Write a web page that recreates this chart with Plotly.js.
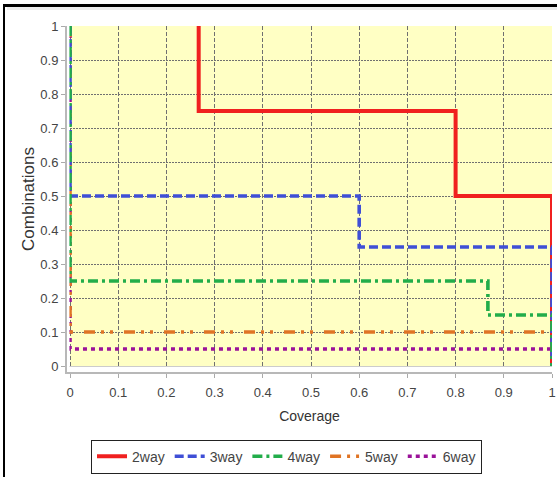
<!DOCTYPE html>
<html>
<head>
<meta charset="utf-8">
<script src="https://cdn.plot.ly/plotly-3.0.1.min.js"></script>
<style>
  html, body { margin: 0; padding: 0; background: #ffffff; }
  #chart { position: absolute; left: 0; top: 0; width: 557px; height: 477px; }
  .frame { position: absolute; background: #000; }
</style>
</head>
<body>
<div id="chart"></div>
<div class="frame" style="left:3px; top:4px; width:554px; height:3px;"></div>
<div class="frame" style="left:7px; top:7px; width:550px; height:3px; background:#eeeeee;"></div>
<div class="frame" style="left:3px; top:4px; width:2px; height:473px;"></div>
<script>
// ---- data ----
var seriesNames = ["2way", "3way", "4way", "5way", "6way"];
var seriesColors = ["#f0201f", "#3f4fd6", "#22ad4a", "#e07424", "#9a1299"];

// step curves: coverage (x) vs combinations (y)
var x2way = [0.267, 0.267, 0.8, 0.8, 1, 1];
var y2way = [1, 0.75, 0.75, 0.5, 0.5, 0];
var x3way = [0, 0, 0.6, 0.6, 1, 1];
var y3way = [1, 0.5, 0.5, 0.35, 0.35, 0];
var x4way = [0, 0, 0.867, 0.867, 1, 1];
var y4way = [1, 0.25, 0.25, 0.15, 0.15, 0];
var x5way = [0, 0, 1, 1];
var y5way = [1, 0.1, 0.1, 0];
var x6way = [0, 0, 1, 1];
var y6way = [1, 0.05, 0.05, 0];

var xTickVals = [0, 0.1, 0.2, 0.3, 0.4, 0.5, 0.6, 0.7, 0.8, 0.9, 1];
var xTickText = ["0", "0.1", "0.2", "0.3", "0.4", "0.5", "0.6", "0.7", "0.8", "0.9", "1"];
var yTickVals = [0, 0.1, 0.2, 0.3, 0.4, 0.5, 0.6, 0.7, 0.8, 0.9, 1];
var yTickText = ["0", "0.1", "0.2", "0.3", "0.4", "0.5", "0.6", "0.7", "0.8", "0.9", "1"];

var xs = [x2way, x3way, x4way, x5way, x6way];
var ys = [y2way, y3way, y4way, y5way, y6way];
var dashes = ["solid", "9px,4px", "10px,4px,3px,4px", "11px,6px,3px,6px,3px,11px", "4px,4px"];
var widths = [4, 3.6, 3.6, 3.6, 3.6];
// drawing order (bottom -> top), legend keeps 2way..6way order via legendrank
var drawOrder = [4, 3, 0, 1, 2];

var traces = drawOrder.map(function (i) {
  return {
    type: "scatter",
    mode: "lines",
    name: seriesNames[i],
    x: xs[i],
    y: ys[i],
    legendrank: i + 1,
    line: { color: seriesColors[i], width: widths[i], dash: dashes[i], shape: "linear" },
    hoverinfo: "skip"
  };
});

var fam = "Liberation Sans, Arial, sans-serif";
var tickFont = { family: fam, size: 13, color: "#444444" };

var layout = {
  width: 557,
  height: 477,
  margin: { l: 67, r: 5, t: 26, b: 104, pad: 0 },
  paper_bgcolor: "rgba(0,0,0,0)",
  plot_bgcolor: "#ffffff",
  showlegend: true,
  legend: {
    orientation: "h",
    x: 0.4526,
    xanchor: "center",
    y: -0.192,
    yanchor: "top",
    bgcolor: "#ffffff",
    bordercolor: "#222222",
    borderwidth: 1,
    font: { family: fam, size: 14, color: "#444444" },
    traceorder: "normal",
    itemwidth: 30
  },
  xaxis: {
    range: [-3 / 482, 1],
    tickmode: "array",
    tickvals: xTickVals,
    ticktext: xTickText,
    ticks: "outside",
    ticklen: 4,
    tickwidth: 1,
    tickcolor: "#aaaaaa",
    tickfont: tickFont,
    ticklabelstandoff: 3,
    showline: true,
    linecolor: "#b8b8b8",
    linewidth: 2,
    showgrid: true,
    gridcolor: "#707070",
    gridwidth: 1,
    griddash: "4px,2px",
    zeroline: false,
    fixedrange: true,
    title: { text: "Coverage", font: { family: fam, size: 14, color: "#333333" }, standoff: 13 }
  },
  yaxis: {
    range: [-6 / 341, 1],
    tickmode: "array",
    tickvals: yTickVals,
    ticktext: yTickText,
    ticks: "outside",
    ticklen: 4,
    tickwidth: 1,
    tickcolor: "#aaaaaa",
    tickfont: tickFont,
    ticklabelstandoff: 0,
    showline: true,
    linecolor: "#b8b8b8",
    linewidth: 2,
    showgrid: true,
    gridcolor: "#707070",
    gridwidth: 1,
    griddash: "2px,1px",
    zeroline: true,
    zerolinecolor: "#999999",
    zerolinewidth: 1,
    fixedrange: true,
    title: { text: "Combinations", font: { family: fam, size: 17, color: "#333333" }, standoff: 1 }
  },
  shapes: [
    // yellow data area
    { type: "rect", layer: "below", xref: "x", yref: "y", x0: 0, x1: 1, y0: 0, y1: 1,
      fillcolor: "#ffffc4", line: { width: 0 } },
    // white strip below data area (clips marks at the data-area edge)
    { type: "rect", layer: "above", xref: "paper", yref: "y", x0: 0, x1: 1, y0: -6 / 341, y1: -0.0015,
      fillcolor: "#ffffff", line: { width: 0 } },
    // white strip left of data area
    { type: "rect", layer: "above", xref: "x", yref: "paper", x0: -3 / 482, x1: -0.0012, y0: 0, y1: 1,
      fillcolor: "#ffffff", line: { width: 0 } }
  ]
};

Plotly.newPlot("chart", traces, layout, { displayModeBar: false, staticPlot: true });
</script>
</body>
</html>
